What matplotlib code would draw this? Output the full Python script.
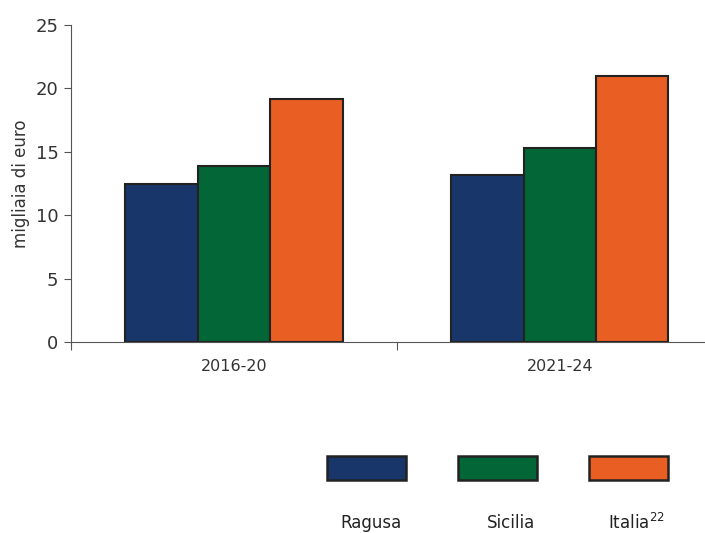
import matplotlib
matplotlib.use("Agg")
import matplotlib.pyplot as plt
from matplotlib.patches import Rectangle
import numpy as np

categories = ["2016-20", "2021-24"]
series_names = ["Ragusa", "Sicilia", "Italia$^{\\mathregular{22}}$"]
ragusa = [12.5, 13.2]
sicilia = [13.9, 15.3]
italia = [19.2, 21.0]
series_values = [ragusa, sicilia, italia]
colors = ["#18366A", "#036636", "#E85E23"]
yticks = [0, 5, 10, 15, 20, 25]

plt.rcParams['font.family'] = ['DejaVu Sans']
fig = plt.figure(figsize=(7.05, 5.33), dpi=100)
ax = fig.add_axes([71/705, (533-342)/533, 1 - 71/705, (342-25)/533])

x = np.arange(len(categories))
w = 0.222
for i, (vals, col) in enumerate(zip(series_values, colors)):
    ax.bar(x + (i - 1) * w, vals, width=w, color=col, edgecolor="#222222",
           linewidth=1.5, zorder=3)

ax.set_yticks(yticks)
ax.set_yticklabels([str(t) for t in yticks], fontsize=13, color="#333333")
ax.tick_params(axis='y', length=5, width=0.8, color="#555555", pad=4)
ax.set_xticks([-0.5, 0.5])
ax.set_xticklabels([])
ax.set_xticks(x, minor=True)
ax.set_xticklabels(categories, minor=True, fontsize=11.5, color="#333333")
ax.tick_params(axis='x', which='major', length=6, width=0.8, color="#555555", direction='out')
ax.tick_params(axis='x', which='minor', length=0, pad=12)
ax.set_ylim(0, 25)
ax.set_xlim(-0.5, 1.445)
for s in ["top", "right"]:
    ax.spines[s].set_visible(False)
for s in ["left", "bottom"]:
    ax.spines[s].set_color("#555555")
    ax.spines[s].set_linewidth(0.8)
ax.set_ylabel("migliaia di euro", fontsize=12, color="#333333", labelpad=4)

# legend drawn manually
leg_x = [326.7, 458.3, 589.3]
leg_w = 79
leg_y_top = 456
leg_h = 24
lab_x = [371, 510.7, 636.7]
for lx, tx, col, name in zip(leg_x, lab_x, colors, series_names):
    fig.add_artist(Rectangle((lx/705, (533-leg_y_top-leg_h)/533), leg_w/705, leg_h/533,
                             transform=fig.transFigure, facecolor=col,
                             edgecolor="#222222", linewidth=1.8))
    fig.text(tx/705, (533-523)/533, name, ha='center', va='center',
             fontsize=12, color="#222222")

fig.savefig("out.png", dpi=100)
